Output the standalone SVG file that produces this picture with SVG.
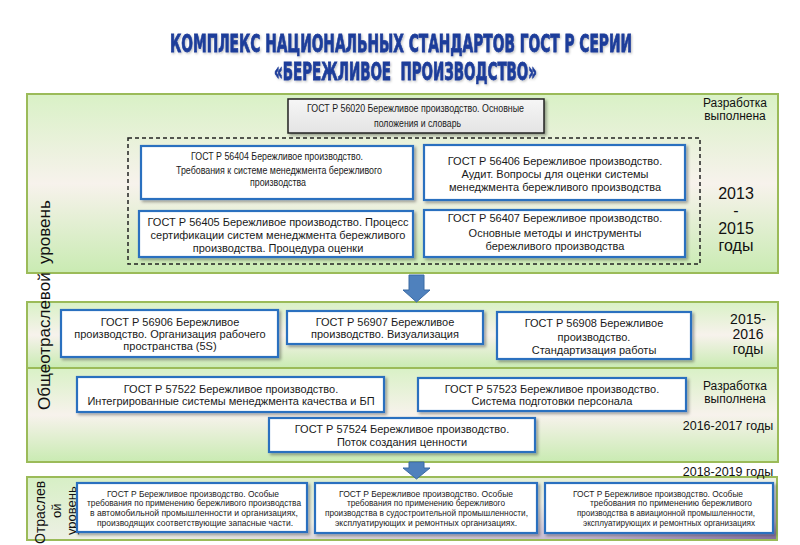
<svg xmlns="http://www.w3.org/2000/svg" width="800" height="545" viewBox="0 0 800 545">
<defs>
<linearGradient id="band" x1="0" y1="0" x2="0" y2="1">
<stop offset="0" stop-color="#d9f1c6"/>
<stop offset="0.5" stop-color="#f7f2ec"/>
<stop offset="1" stop-color="#c9ebb2"/>
</linearGradient>
<linearGradient id="band4" x1="0" y1="0" x2="1" y2="1">
<stop offset="0" stop-color="#d6efc4"/>
<stop offset="0.55" stop-color="#eef0e6"/>
<stop offset="0.85" stop-color="#c7b9d3"/>
<stop offset="1" stop-color="#7f6a9f"/>
</linearGradient>
<linearGradient id="gray" x1="0" y1="0" x2="0" y2="1">
<stop offset="0" stop-color="#f6f6f6"/>
<stop offset="1" stop-color="#e4e4e4"/>
</linearGradient>
<filter id="sh" x="-10%" y="-20%" width="120%" height="150%">
<feDropShadow dx="2" dy="2" stdDeviation="1.5" flood-color="#000" flood-opacity="0.35"/>
</filter>
<filter id="tsh" x="-5%" y="-30%" width="110%" height="160%">
<feDropShadow dx="1" dy="1" stdDeviation="0.8" flood-color="#000" flood-opacity="0.25"/>
</filter>
<style>
.band{fill:url(#band);stroke:#9bbb59;stroke-width:2}
.box{fill:#fff;stroke:#2a6fbf;stroke-width:2.2;filter:url(#sh)}
.t{font-family:"Liberation Sans",Arial,sans-serif;fill:#1a1a1a}
.c{text-anchor:middle}
.f11{font-size:11px}
.f10{font-size:10.5px}
.f8{font-size:8.5px}
.lbl{font-family:"Liberation Sans",Arial,sans-serif;fill:#111;text-anchor:middle}
.title{font-family:"Liberation Sans Narrow","DejaVu Sans Condensed","Liberation Sans",sans-serif;font-weight:bold;font-size:19px;fill:#1e3d9a;stroke:#1e3d9a;stroke-width:0.6;filter:url(#tsh)}
.arrow{fill:#4f81bd;stroke:#3b6aa3;stroke-width:1}
.vt{font-family:"Liberation Sans",Arial,sans-serif;fill:#111}
</style>
</defs>
<rect width="800" height="545" fill="#fff"/>

<g id="title">
<text class="title" transform="translate(170,52) scale(1,1.26)" x="0" y="0" textLength="462" lengthAdjust="spacingAndGlyphs">КОМПЛЕКС НАЦИОНАЛЬНЫХ СТАНДАРТОВ ГОСТ Р СЕРИИ</text>
<text class="title" transform="translate(274,80) scale(1,1.26)" x="0" y="0" textLength="263" lengthAdjust="spacingAndGlyphs">«БЕРЕЖЛИВОЕ&#160; ПРОИЗВОДСТВО»</text>
</g>

<g id="band1">
<rect class="band" x="27" y="94" width="751" height="179"/>
<rect x="128" y="138" width="572" height="126" fill="none" stroke="#222" stroke-width="1.5" stroke-dasharray="4,3"/>
<text class="lbl" font-size="12" x="735" y="107">Разработка</text>
<text class="lbl" font-size="12" x="735" y="120">выполнена</text>
<text class="lbl" font-size="16" x="736" y="199">2013</text>
<text class="lbl" font-size="16" x="736" y="216">-</text>
<text class="lbl" font-size="16" x="736" y="234">2015</text>
<text class="lbl" font-size="16" x="736" y="251">годы</text>
</g>

<g id="band2">
<rect class="band" x="27" y="302" width="751" height="66"/>
<text class="lbl" font-size="14" x="748" y="324">2015-</text>
<text class="lbl" font-size="14" x="748" y="339">2016</text>
<text class="lbl" font-size="14" x="748" y="354">годы</text>
</g>

<g id="band3">
<rect class="band" x="27" y="368" width="751" height="94"/>
<text class="lbl" font-size="12" x="735" y="390">Разработка</text>
<text class="lbl" font-size="12" x="735" y="403">выполнена</text>
<text class="lbl" font-size="12.5" x="728" y="430">2016-2017 годы</text>
</g>

<g id="band4">
<rect x="27" y="477" width="750" height="63" fill="url(#band4)" stroke="#9bbb59" stroke-width="2"/>
<text class="lbl" font-size="12.5" x="728" y="476">2018-2019 годы</text>
</g>

<g id="level-labels">
<text class="vt" font-size="17" transform="translate(50,410) rotate(-90)">Общеотраслевой</text>
<text class="vt" font-size="17" transform="translate(50,264) rotate(-90)">уровень</text>
<text class="vt" font-size="14" transform="translate(45,544) rotate(-90)">Отраслев</text>
<text class="vt" font-size="13" transform="translate(61,518) rotate(-90)">ой</text>
<text class="vt" font-size="13" transform="translate(76,535) rotate(-90)">уровень</text>
</g>

<g id="gost56020">
<rect x="288" y="99" width="256" height="34" fill="url(#gray)" stroke="#222" stroke-width="1.5" filter="url(#sh)"/>
<text class="t f10" x="307" y="112" textLength="217" lengthAdjust="spacingAndGlyphs">ГОСТ Р 56020 Бережливое производство. Основные</text>
<text class="t f10" x="374" y="127" textLength="87" lengthAdjust="spacingAndGlyphs">положения и словарь</text>
</g>

<g id="gost56404">
<rect class="box" x="141" y="146" width="272" height="53"/>
<text class="t f10" x="191" y="160" textLength="172" lengthAdjust="spacingAndGlyphs">ГОСТ Р 56404 Бережливое производство.</text>
<text class="t f10" x="176" y="174" textLength="206" lengthAdjust="spacingAndGlyphs">Требования к системе менеджмента бережливого</text>
<text class="t f10" x="250" y="186" textLength="56" lengthAdjust="spacingAndGlyphs">производства</text>
</g>

<g id="gost56405">
<rect class="box" x="139" y="211" width="274" height="46"/>
<text class="t f11 c" x="278" y="226">ГОСТ Р 56405 Бережливое производство. Процесс</text>
<text class="t f11 c" x="278" y="239">сертификации систем менеджмента бережливого</text>
<text class="t f11 c" x="278" y="252">производства. Процедура оценки</text>
</g>

<g id="gost56406">
<rect class="box" x="424" y="145" width="261" height="55"/>
<text class="t f11 c" x="555" y="165">ГОСТ Р 56406 Бережливое производство.</text>
<text class="t f11 c" x="555" y="178">Аудит. Вопросы для оценки системы</text>
<text class="t f11 c" x="555" y="191">менеджмента бережливого производства</text>
</g>

<g id="gost56407">
<rect class="box" x="424" y="210" width="261" height="47"/>
<text class="t f11 c" x="555" y="222">ГОСТ Р 56407 Бережливое производство.</text>
<text class="t f11 c" x="555" y="237">Основные методы и инструменты</text>
<text class="t f11 c" x="555" y="250">бережливого производства</text>
</g>

<g id="gost56906">
<rect class="box" x="61" y="310" width="217" height="47"/>
<text class="t f11 c" x="170" y="326">ГОСТ Р 56906 Бережливое</text>
<text class="t f11 c" x="170" y="338">производство. Организация рабочего</text>
<text class="t f11 c" x="170" y="350">пространства (5S)</text>
</g>

<g id="gost56907">
<rect class="box" x="287" y="311" width="196" height="33"/>
<text class="t f11 c" x="385" y="326">ГОСТ Р 56907 Бережливое</text>
<text class="t f11 c" x="385" y="338">производство. Визуализация</text>
</g>

<g id="gost56908">
<rect class="box" x="497" y="312" width="194" height="47"/>
<text class="t f11 c" x="594" y="327">ГОСТ Р 56908 Бережливое</text>
<text class="t f11 c" x="594" y="341">производство.</text>
<text class="t f11 c" x="594" y="354">Стандартизация работы</text>
</g>

<g id="gost57522">
<rect class="box" x="77" y="377" width="307" height="35"/>
<text class="t f11 c" x="231" y="393">ГОСТ Р 57522 Бережливое производство.</text>
<text class="t f11 c" x="231" y="405">Интегрированные системы менеджмента качества и БП</text>
</g>

<g id="gost57523">
<rect class="box" x="418" y="378" width="268" height="33"/>
<text class="t f11 c" x="552" y="393">ГОСТ Р 57523 Бережливое производство.</text>
<text class="t f11 c" x="552" y="405">Система подготовки персонала</text>
</g>

<g id="gost57524">
<rect class="box" x="269" y="418" width="266" height="34"/>
<text class="t f11 c" x="402" y="433">ГОСТ Р 57524 Бережливое производство.</text>
<text class="t f11 c" x="402" y="446">Поток создания ценности</text>
</g>

<g id="gost-auto">
<rect class="box" x="77" y="483" width="230" height="49"/>
<text class="t f8" x="107" y="497" textLength="172" lengthAdjust="spacingAndGlyphs">ГОСТ  Р Бережливое  производство. Особые</text>
<text class="t f8" x="87" y="506" textLength="214" lengthAdjust="spacingAndGlyphs">требования по применению бережливого производства</text>
<text class="t f8" x="90" y="516" textLength="208" lengthAdjust="spacingAndGlyphs">в автомобильной промышленности и организациях,</text>
<text class="t f8" x="97" y="526" textLength="196" lengthAdjust="spacingAndGlyphs">производящих соответствующие запасные части.</text>
</g>

<g id="gost-ship">
<rect class="box" x="315" y="483" width="222" height="50"/>
<text class="t f8" x="339" y="497" textLength="174" lengthAdjust="spacingAndGlyphs">ГОСТ Р Бережливое производство. Особые</text>
<text class="t f8" x="347" y="506" textLength="158" lengthAdjust="spacingAndGlyphs">требования по применению бережливого</text>
<text class="t f8" x="325" y="516" textLength="203" lengthAdjust="spacingAndGlyphs">производства в судостроительной промышленности,</text>
<text class="t f8" x="335" y="526" textLength="182" lengthAdjust="spacingAndGlyphs">эксплуатирующих и ремонтных организациях.</text>
</g>

<g id="gost-avia">
<rect class="box" x="545" y="483" width="228" height="50"/>
<text class="t f8" x="573" y="497" textLength="170" lengthAdjust="spacingAndGlyphs">ГОСТ Р Бережливое производство. Особые</text>
<text class="t f8" x="590" y="506" textLength="162" lengthAdjust="spacingAndGlyphs">требования по применению бережливого</text>
<text class="t f8" x="577" y="516" textLength="178" lengthAdjust="spacingAndGlyphs">производства в авиационной промышленности,</text>
<text class="t f8" x="583" y="526" textLength="172" lengthAdjust="spacingAndGlyphs">эксплуатирующих и ремонтных организациях</text>
</g>

<g id="connectors">
<polygon class="arrow" points="409,275 424,275 424,290 430,290 416.5,302 403,290 409,290"/>
<polygon class="arrow" points="409,462 424,462 424,468 430,468 416.5,479 403,468 409,468"/>
</g>
</svg>
